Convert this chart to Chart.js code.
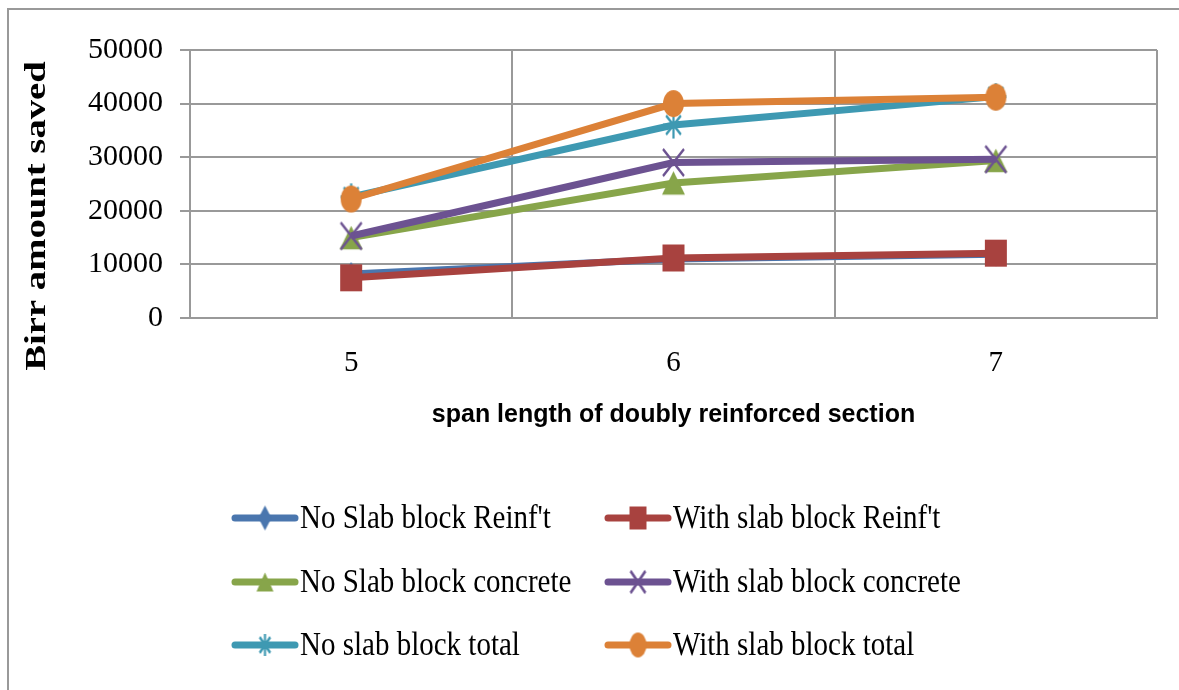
<!DOCTYPE html>
<html>
<head>
<meta charset="utf-8">
<script src="https://cdn.jsdelivr.net/npm/chart.js@4.4.1/dist/chart.umd.min.js"></script>
<style>
  html, body { margin: 0; padding: 0; background: #fff; }
  #wrap { position: relative; width: 1179px; height: 690px; }
  #frame { position: absolute; left: 7px; top: 8px; right: -10px; bottom: -10px;
           border-top: 2px solid #999; border-left: 2px solid #999; pointer-events: none; }
  canvas { position: absolute; left: 0; top: 0; }
</style>
</head>
<body>
<div id="wrap">
  <canvas id="savedChart" width="1179" height="690"></canvas>
  <div id="frame"></div>
</div>
<script>
// span lengths on the x axis
const spans = ['5', '6', '7'];

// Birr saved
const noSlabReinf = [8200, 11000, 11900];
const withSlabReinf = [7500, 11200, 12100];
const noSlabConcrete = [15000, 25200, 29400];
const withSlabConcrete = [15300, 29000, 29600];
const noSlabTotal = [22600, 36000, 41300];
const withSlabTotal = [22200, 40000, 41200];

const seriesNames = [
    'No Slab block Reinf\'t', 'With slab block Reinf\'t',
    'No Slab block concrete', 'With slab block concrete',
    'No slab block total', 'With slab block total'
];
const seriesColors = ['#4A76AE', '#A8423F', '#87A54A', '#6C5291', '#3E99B2', '#DC8137'];
const markers = ['rectRot', 'rect', 'triangle', 'crossRot', 'star', 'circle'];
// marker boxes (width, height); the original is stretched vertically
const plotMarkerSizes = [[16, 24], [22, 27], [23, 27], [21, 27], [21, 27], [21, 27]];
const legendMarkerSizes = [[13, 25], [17, 23], [17, 22], [15, 22], [15, 22], [17, 25]];
const allValues = [noSlabReinf, withSlabReinf, noSlabConcrete, withSlabConcrete, noSlabTotal, withSlabTotal];

const serif = '"Liberation Serif", "DejaVu Serif", serif';

function isStroked(style) {
    return style === 'crossRot' || style === 'star';
}

// radius that gives a marker of the wanted width
function radiusFor(style, w) {
    if (style === 'rect' || style === 'crossRot') return w / Math.SQRT2;
    if (style === 'triangle') return w / Math.sqrt(3);
    return w / 2;
}

function makeMarker(style, color, w, h) {
    const c = document.createElement('canvas');
    c.width = w + 6;
    c.height = h + 6;
    const g = c.getContext('2d');
    g.translate(c.width / 2, c.height / 2);
    g.scale(1, h / w);
    g.fillStyle = color;
    g.strokeStyle = color;
    g.lineWidth = isStroked(style) ? 2.2 : 0;
    const r = radiusFor(style, w);
    // triangle centroid sits low; nudge it up so the shape is centred
    const dy = style === 'triangle' ? -r * 0.25 : 0;
    Chart.helpers.drawPoint(g, {
        pointStyle: style,
        radius: r,
        rotation: 0,
        borderWidth: isStroked(style) ? 2.2 : 0
    }, 0, -dy);
    return c;
}

const plotMarkers = markers.map((m, i) => makeMarker(m, seriesColors[i], plotMarkerSizes[i][0], plotMarkerSizes[i][1]));
const legendMarkers = markers.map((m, i) => makeMarker(m, seriesColors[i], legendMarkerSizes[i][0], legendMarkerSizes[i][1]));

const datasets = allValues.map((vals, i) => ({
    label: seriesNames[i],
    data: vals,
    borderColor: seriesColors[i],
    backgroundColor: seriesColors[i],
    borderWidth: 7,
    pointStyle: plotMarkers[i],
    pointRadius: 12,
    pointHoverRadius: 12,
    tension: 0,
    order: -i
}));

// y title and a two-column legend, placed like the original
const decorations = {
    id: 'decorations',
    afterDraw(chart) {
        const ctx = chart.ctx;
        ctx.save();
        ctx.fillStyle = '#000';
        ctx.font = 'bold 30px ' + serif;
        ctx.textAlign = 'center';
        ctx.textBaseline = 'middle';
        ctx.translate(37, 216);
        ctx.rotate(-Math.PI / 2);
        ctx.scale(1.29, 1);
        ctx.fillText('Birr amount saved', 0, 0);
        ctx.restore();

        const cols = [232, 605];
        const rows = [518, 582, 645];
        seriesNames.forEach((name, i) => {
            const x = cols[i % 2];
            const y = rows[Math.floor(i / 2)];
            ctx.save();
            ctx.strokeStyle = seriesColors[i];
            ctx.lineWidth = 7;
            ctx.lineCap = 'round';
            ctx.beginPath();
            ctx.moveTo(x + 3, y);
            ctx.lineTo(x + 63, y);
            ctx.stroke();
            const img = legendMarkers[i];
            ctx.drawImage(img, x + 33 - img.width / 2, y - img.height / 2);
            ctx.fillStyle = '#000';
            ctx.font = '29px ' + serif;
            ctx.textAlign = 'left';
            ctx.textBaseline = 'middle';
            ctx.translate(x + 68, y + 1);
            ctx.scale(1, 1.15);
            ctx.fillText(name, 0, 0);
            ctx.restore();
        });
    }
};

const ctx = document.getElementById('savedChart').getContext('2d');
new Chart(ctx, {
    type: 'line',
    data: { labels: spans, datasets: datasets },
    options: {
        responsive: false,
        animation: false,
        layout: { padding: { top: 50, right: 22, bottom: 250, left: 0 } },
        plugins: {
            legend: { display: false },
            tooltip: { enabled: false }
        },
        scales: {
            x: {
                offset: true,
                grid: { color: '#999', lineWidth: 2, offset: true, drawTicks: false },
                border: { color: '#999', width: 2 },
                ticks: { color: '#000', font: { family: serif, size: 29 }, padding: 28 },
                title: {
                    display: true,
                    text: 'span length of doubly reinforced section',
                    color: '#000',
                    font: { family: '"Liberation Sans", Arial, sans-serif', size: 25, weight: 'bold' },
                    padding: { top: 0, bottom: 10 }
                },
                afterFit(scale) { scale.height = 122; }
            },
            y: {
                min: 0,
                max: 50000,
                ticks: {
                    stepSize: 10000,
                    color: '#000',
                    font: { family: serif, size: 30 },
                    padding: 17,
                    callback: (v) => String(v)
                },
                grid: { color: '#999', lineWidth: 2, tickLength: 10 },
                border: { color: '#999', width: 2 },
                afterFit(scale) { scale.width = 190; }
            }
        }
    },
    plugins: [decorations]
});
</script>
</body>
</html>
